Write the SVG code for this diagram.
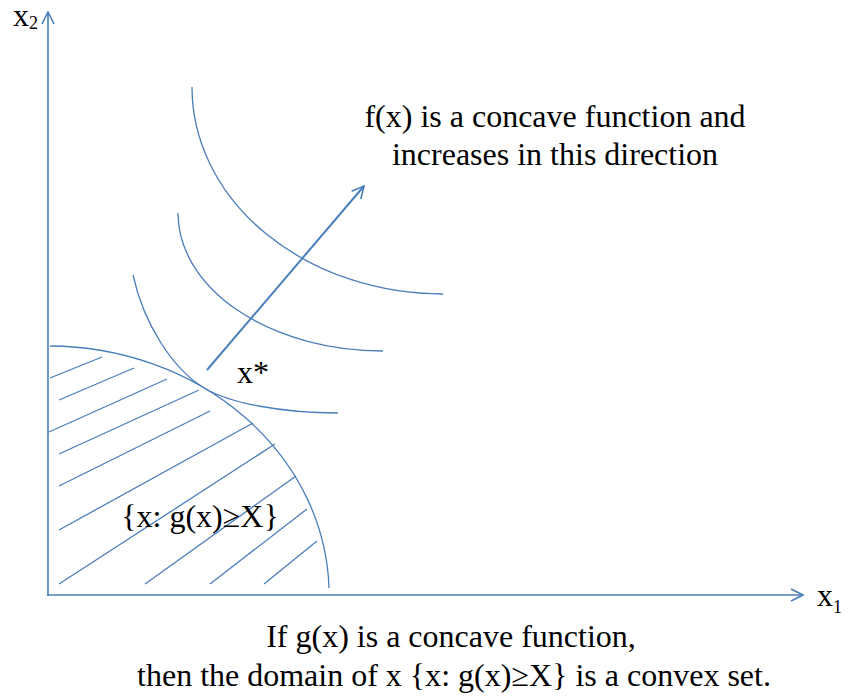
<svg xmlns="http://www.w3.org/2000/svg" width="849" height="698" viewBox="0 0 849 698">
  <style>
    .ln { fill: none; stroke: #4a7ebb; stroke-width: 1.3; }
    .ax { fill: none; stroke: #4a7ebb; stroke-width: 1.6; }
    .ar { fill: none; stroke: #4a7ebb; stroke-width: 2; }
    .t { font-family: "Liberation Serif", "Times New Roman", serif; fill: #000; font-size: 32px; }
  </style>
  <defs>
    <marker id="head" viewBox="0 0 14 14" refX="13" refY="7" markerWidth="14" markerHeight="14" markerUnits="userSpaceOnUse" orient="auto">
      <path d="M1,1 L13,7 L1,13" fill="none" stroke="#4a7ebb" stroke-width="1.6"/>
    </marker>
  </defs>
  <rect width="849" height="698" fill="#fff"/>

  <g id="axes">
    <line class="ax" x1="48" y1="596" x2="48" y2="12" marker-end="url(#head)"/>
    <line class="ax" x1="47" y1="595" x2="803" y2="595" marker-end="url(#head)"/>
    <text class="t" x="13" y="26" font-size="26">x<tspan font-size="18" dy="3">2</tspan></text>
    <text class="t" x="817" y="606" font-size="28">x<tspan font-size="18" dy="7">1</tspan></text>
  </g>

  <g id="feasible-set">
    <path class="ln" d="M50,346 A281,249 0 0 1 329,588"/>
    <g id="hatch">
      <line class="ln" x1="50" y1="378" x2="102" y2="357"/>
      <line class="ln" x1="59" y1="400" x2="134" y2="368"/>
      <line class="ln" x1="49" y1="432" x2="167" y2="379"/>
      <line class="ln" x1="59" y1="454" x2="199" y2="390"/>
      <line class="ln" x1="59" y1="486" x2="210" y2="411"/>
      <line class="ln" x1="59" y1="530" x2="253" y2="423"/>
      <line class="ln" x1="59" y1="584" x2="275" y2="444"/>
      <line class="ln" x1="145" y1="584" x2="296" y2="476"/>
      <line class="ln" x1="210" y1="584" x2="307" y2="509"/>
      <line class="ln" x1="264" y1="584" x2="317" y2="541"/>
    </g>
    <text class="t" x="200" y="527" font-size="31" text-anchor="middle">{x: g(x)≥X}</text>
  </g>

  <g id="level-curves">
    <path class="ln" d="M133,275 C143.7,323.7 172.5,369.1 205,388.5 C229.6,403.2 282.8,413 338,413"/>
    <path class="ln" d="M178,213 A205,138 0 0 0 383,351"/>
    <path class="ln" d="M192,87 A251,207 0 0 0 443,294"/>
  </g>

  <g id="connectors">
    <line class="ar" x1="207" y1="370" x2="364" y2="186" marker-end="url(#head)"/>
  </g>

  <g id="x-star">
    <text class="t" x="237" y="383">x*</text>
  </g>

  <g id="f-label">
    <text class="t" x="555" y="127" text-anchor="middle">f(x) is a concave function and</text>
    <text class="t" x="555" y="165" text-anchor="middle">increases in this direction</text>
  </g>

  <g id="caption">
    <text class="t" x="451" y="647" text-anchor="middle">If g(x) is a concave function,</text>
    <text class="t" x="454" y="686" text-anchor="middle">then the domain of x {x: g(x)≥X} is a convex set.</text>
  </g>
</svg>
